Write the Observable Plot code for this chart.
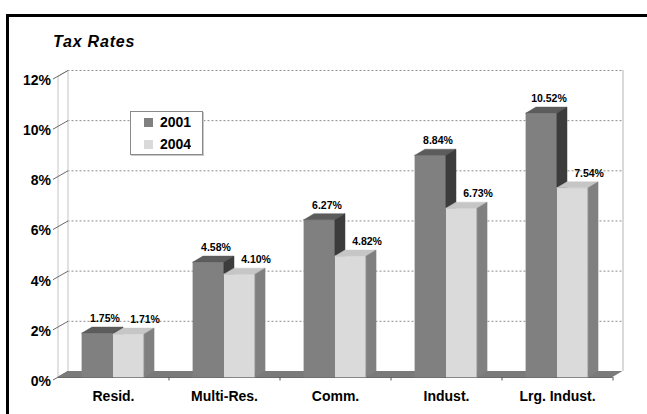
<!DOCTYPE html>
<html><head><meta charset="utf-8">
<script src="https://cdn.jsdelivr.net/npm/d3@7"></script>
<script src="https://cdn.jsdelivr.net/npm/@observablehq/plot@0.6"></script>
<style>
html,body{margin:0;padding:0;background:#fff;width:647px;height:414px;overflow:hidden;}
#frame{position:absolute;left:6px;top:14px;width:700px;height:500px;border-top:3px solid #000;border-left:3px solid #000;box-sizing:border-box;}
#title{position:absolute;left:53px;top:33px;font:italic bold 16px "Liberation Sans",Arial,sans-serif;letter-spacing:0.8px;color:#000;}
#chart{position:absolute;left:0;top:56px;}
#legend{position:absolute;left:130px;top:111px;width:73px;height:44px;border:1px solid #8a8a8a;box-shadow:1px 1px 0 #c8c8c8;background:#fff;padding-left:13px;box-sizing:border-box;}
</style></head><body>
<div id="frame"></div>
<div id="title">Tax Rates</div>
<div id="chart"></div>
<div id="legend"></div>
<script>
// ---- data ----
const categories = ["Resid.", "Multi-Res.", "Comm.", "Indust.", "Lrg. Indust."];
const years = ["2001", "2004"];
const rates2001 = [1.75, 4.58, 6.27, 8.84, 10.52];
const rates2004 = [1.71, 4.10, 4.82, 6.73, 7.54];
const yTicks = [0, 2, 4, 6, 8, 10, 12];

// ---- styling / geometry constants ----
const FONT = '"Liberation Sans", Arial, sans-serif';
const W = 0.28;   // bar width (band units)
const D = 0.09;   // 3D depth, x (band units)
const H = 0.24;   // 3D depth, y (percent units)
const N = categories.length;
const YMAX = yTicks[yTicks.length - 1];
const colors = {
  "2001": {front: "#808080", top: "#5c5c5c", side: "#3c3c3c"},
  "2004": {front: "#dadada", top: "#c6c6c6", side: "#808080"}
};

const rows = [];
categories.forEach((c, i) => {
  rows.push({cat: c, i, year: "2001", value: rates2001[i], x1: i + 0.5 - W, x2: i + 0.5});
  rows.push({cat: c, i, year: "2004", value: rates2004[i], x1: i + 0.5, x2: i + 0.5 + W});
});
const topFace = rows.flatMap(r => {
  const id = r.year + "-" + r.i;
  return [
    {id, year: r.year, x: r.x1, y1: r.value, y2: r.value},
    {id, year: r.year, x: r.x1 + D, y1: r.value, y2: r.value + H},
    {id, year: r.year, x: r.x2, y1: r.value, y2: r.value + H},
    {id, year: r.year, x: r.x2 + D, y1: r.value + H, y2: r.value + H}
  ];
});
const sideFace = rows.flatMap(r => {
  const id = r.year + "-" + r.i;
  return [
    {id, year: r.year, x: r.x2, y1: 0, y2: r.value},
    {id, year: r.year, x: r.x2 + D, y1: H, y2: r.value + H}
  ];
});
const floor = [
  {x: 0, y1: 0, y2: 0},
  {x: D, y1: 0, y2: H},
  {x: N, y1: 0, y2: H},
  {x: N + D, y1: H, y2: H}
];

function barMarks(year) {
  const c = colors[year];
  const f = d => d.year === year;
  return [
    Plot.rect(rows.filter(f), {x1: "x1", x2: "x2", y1: 0, y2: "value", fill: c.front, stroke: c.front, strokeWidth: 0.5}),
    Plot.areaY(topFace.filter(f), {x: "x", y1: "y1", y2: "y2", z: "id", fill: c.top, stroke: c.top, strokeWidth: 0.5}),
    Plot.areaY(sideFace.filter(f), {x: "x", y1: "y1", y2: "y2", z: "id", fill: c.side, stroke: c.side, strokeWidth: 0.5})
  ];
}

const hasAxisMarks = typeof Plot.axisY === "function";
const xTickVals = categories.map((c, i) => i + 0.5);
const axisMarks = hasAxisMarks ? [
  Plot.axisY(yTicks, {tickFormat: d => d + "%", tickSize: 0, tickPadding: 7, dy: 4, label: null, fontSize: 14, fontWeight: "bold"}),
  Plot.axisX(xTickVals, {tickFormat: d => categories[Math.floor(d)], tickSize: 0, tickPadding: 14, label: null, fontSize: 14, fontWeight: "bold"})
] : [];

const chart = Plot.plot({
  width: 647,
  height: 358,
  marginLeft: 57.5,
  marginRight: 34.5,
  marginTop: 20,
  marginBottom: 37,
  style: {fontFamily: FONT, fontSize: "14px", fontWeight: "bold", color: "#000", background: "transparent", overflow: "visible"},
  x: hasAxisMarks ? {domain: [0, N]} : {domain: [0, N], ticks: xTickVals, tickFormat: d => categories[Math.floor(d)], tickSize: 0, tickPadding: 14, label: null},
  y: hasAxisMarks ? {domain: [0, YMAX]} : {domain: [0, YMAX], ticks: yTicks, tickFormat: d => d + "%", tickSize: 0, tickPadding: 7, label: null},
  marks: [
    // back wall gridlines
    Plot.ruleY(yTicks.filter(v => v > 0), {y: v => v + H, x1: D, x2: N + D, stroke: "#8c8c8c", strokeDasharray: "2,2"}),
    // back wall right edge
    Plot.ruleX([N + D], {y1: H, y2: YMAX + H, stroke: "#b4b4b4"}),
    // left side wall
    Plot.ruleX([0], {y1: 0, y2: YMAX, stroke: "#c4c4c4"}),
    Plot.ruleX([D], {y1: H, y2: YMAX + H, stroke: "#c4c4c4"}),
    Plot.link([YMAX], {x1: 0, y1: v => v, x2: D, y2: v => v + H, stroke: "#c4c4c4"}),
    // y tick connectors
    Plot.link(yTicks, {x1: -0.045, y1: v => v - 0.1, x2: D, y2: v => v + H, stroke: "#6a6a6a"}),
    // floor
    Plot.areaY(floor, {x: "x", y1: "y1", y2: "y2", fill: "#7a7a7a"}),
    Plot.ruleY([0], {x1: 0, x2: N, stroke: "#6a6a6a"}),
    Plot.ruleX(d3.range(1, N + 1), {y1: 0, y2: -0.14, stroke: "#555"}),
    // bars
    ...barMarks("2001"),
    ...barMarks("2004"),
    // data labels
    Plot.text(rows.filter(d => d.year === "2001"), {x: d => (d.x1 + d.x2) / 2, y: "value", text: d => d.value.toFixed(2) + "%", dx: 7, dy: -15, fontSize: 10.5, fontWeight: "bold", fill: "#000"}),
    Plot.text(rows.filter(d => d.year === "2004"), {x: d => (d.x1 + d.x2) / 2, y: "value", text: d => d.value.toFixed(2) + "%", dx: 16, dy: -15, fontSize: 10.5, fontWeight: "bold", fill: "#000"}),
    ...axisMarks
  ]
});
document.getElementById("chart").appendChild(chart);

const leg = Plot.legend({
  color: {type: "ordinal", domain: years, range: years.map(y => colors[y].front)},
  legend: "swatches",
  columns: 1,
  swatchSize: 9,
  style: {margin: "0", fontFamily: FONT, fontSize: "14px", fontWeight: "bold", lineHeight: "21px", color: "#000", background: "transparent"}
});
document.getElementById("legend").appendChild(leg);
</script>
</body></html>
